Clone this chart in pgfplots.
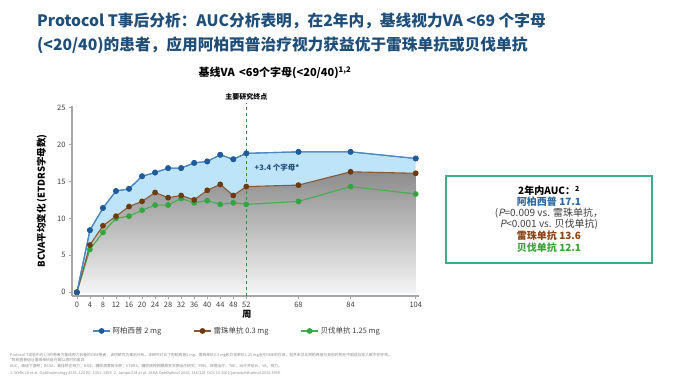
\documentclass[border=0pt]{standalone}
\usepackage{fontspec}
\setmainfont{Noto Sans CJK SC}
\newfontfamily\slantfont{Noto Sans CJK SC}[FakeSlant=0.2]
\usepackage{pgfplots}
\pgfplotsset{compat=1.18}
\definecolor{titleblue}{HTML}{1F4E79}
\definecolor{bline}{HTML}{4A86C0}
\definecolor{bmark}{HTML}{1F5C99}
\definecolor{bfill}{HTML}{BDE4F8}
\definecolor{rline}{HTML}{8A5A35}
\definecolor{rmark}{HTML}{6E3A10}
\definecolor{gline}{HTML}{45AE4E}
\definecolor{gmark}{HTML}{35A540}
\definecolor{graytop}{HTML}{8C8C8C}
\definecolor{graybot}{HTML}{F4F4F4}
\definecolor{axgray}{HTML}{A6A6A6}
\definecolor{tickgray}{HTML}{404040}
\definecolor{boxgreen}{HTML}{3AAE85}
\definecolor{auctxt}{HTML}{404040}
\definecolor{aucblue}{HTML}{2E6AA0}
\definecolor{aucbrown}{HTML}{8B4513}
\definecolor{aucgreen}{HTML}{3AA335}
\definecolor{footgray}{HTML}{8C8C8C}

\pgfplotstableread{
x y
0 0
4 8.4
8 11.4
12 13.7
16 14.0
20 15.7
24 16.2
28 16.8
32 16.8
36 17.5
40 17.7
44 18.6
48 18.0
52 18.8
68 19.0
84 19.0
104 18.1
}\aflib
\pgfplotstableread{
x y
0 0
4 6.4
8 9.0
12 10.3
16 11.6
20 12.3
24 13.5
28 12.8
32 13.1
36 12.5
40 13.8
44 14.6
48 13.1
52 14.3
68 14.5
84 16.3
104 16.1
}\ranib
\pgfplotstableread{
x y
0 0
4 5.8
8 8.1
12 10.0
16 10.3
20 11.1
24 11.8
28 11.8
32 12.7
36 12.1
40 12.4
44 11.9
48 12.1
52 11.9
68 12.3
84 14.3
104 13.3
}\bevac

\begin{document}
\begin{tikzpicture}[x=1pt,y=1pt]
\path[use as bounding box, fill=white] (0,0) rectangle (693,384);
\node[anchor=base west, inner sep=0, font=\bfseries\fontsize{15.7}{18}\selectfont, text=titleblue] at (37,357) {Protocol T事后分析：AUC分析表明，在2年内，基线视力VA <69 个字母};
\node[anchor=base west, inner sep=0, font=\bfseries\fontsize{15.7}{18}\selectfont, text=titleblue] at (37,334) {(<20/40)的患者，应用阿柏西普治疗视力获益优于雷珠单抗或贝伐单抗};
\node[font=\bfseries\fontsize{11}{13}\selectfont] at (275,311) {基线VA \,<69个字母(<20/40)\textsuperscript{1,2}};

% AUC box
\draw[boxgreen, line width=1.3pt] (446,121) rectangle (652,208);
\node[font=\bfseries\fontsize{10}{12}\selectfont, text=black] at (549,193) {2年内AUC：\textsuperscript{2}};
\node[font=\bfseries\fontsize{10}{12}\selectfont, text=aucblue] at (549,182) {阿柏西普 17.1};
\node[font=\fontsize{10}{12}\selectfont, text=auctxt] at (549,170.5) {({\slantfont P}=0.009 vs. 雷珠单抗，};
\node[font=\fontsize{10}{12}\selectfont, text=auctxt] at (549,159.5) {{\slantfont P}<0.001 vs. 贝伐单抗)};
\node[font=\bfseries\fontsize{10}{12}\selectfont, text=aucbrown] at (549,148) {雷珠单抗 13.6};
\node[font=\bfseries\fontsize{10}{12}\selectfont, text=aucgreen] at (549,136.5) {贝伐单抗 12.1};

% footnotes
\begin{scope}[every node/.style={anchor=base west, inner sep=0, font=\fontsize{3.8}{4.5}\selectfont, text=footgray}]
\node at (10,28) {Protocol T试验中约1/3的患者为基线视力较差的DME患者，该项研究为事后分析。本研究对比了阿柏西普2 mg、雷珠单抗0.3 mg和贝伐单抗1.25 mg治疗DME的疗效，但并未对比阿柏西普与其他药物在中国适应症人群中的疗效。};
\node at (10,22.5) {*阿柏西普组与雷珠单抗组在第52周时的差异};
\node at (10,16.5) {AUC，曲线下面积；BCVA，最佳矫正视力；DME，糖尿病黄斑水肿；ETDRS，糖尿病视网膜病变早期治疗研究；PRN，按需治疗；TAE，治疗并延长；VA，视力。};
\node at (10,10) {1. Wells JA \textit{et al.} \textit{Ophthalmology} 2016; 123 (6): 1351–1359. 2. Jampol LM \textit{et al.} \textit{JAMA Ophthalmol} 2016; 134 (12): DOI: 10.1001/jamaophthalmol.2016.3698.};
\end{scope}

\begin{axis}[
  at={(72pt,88pt)}, anchor=south west, scale only axis,
  width=347pt, height=190pt,
  xmin=-1.5, xmax=105, ymin=-0.5, ymax=25.2,
  axis x line*=bottom, axis y line*=left,
  axis line style={axgray, line width=1.3pt, -},
  xtick={0,4,8,12,16,20,24,28,32,36,40,44,48,52,68,84,104},
  ytick={0,5,10,15,20,25},
  tick align=outside, major tick length=3pt,
  tick style={axgray, line width=0.6pt},
  ticklabel style={font=\fontsize{7.5}{9}\selectfont, text=tickgray},
  /pgf/number format/assume math mode=true,
  xlabel={周}, xlabel style={font=\bfseries\fontsize{9}{10}\selectfont, at={(axis description cs:0.504,-0.095)}, anchor=center},
  ylabel={BCVA平均变化 (ETDRS字母数)}, ylabel style={font=\bfseries\fontsize{9.5}{11}\selectfont, at={(axis description cs:-0.087,0.5)}, anchor=center, rotate=0},
  clip=false,
  legend columns=3,
  legend style={draw=none, fill=none, at={(axis description cs:0.476,-0.184)}, anchor=center, font=\fontsize{7.5}{9}\selectfont, text=tickgray, /tikz/every even column/.append style={column sep=30pt}},
  legend cell align=left,
]
\addplot[draw=none, fill=bfill, forget plot] table {\aflib} \closedcycle;
\addplot[draw=none, top color=graytop, bottom color=graybot, forget plot] table {\ranib} \closedcycle;
\draw[gline!80!black, dashed, line width=0.7pt] (axis cs:52,-0.5) -- (axis cs:52,25.6);
\node[font=\bfseries\fontsize{7}{8}\selectfont] at (axis cs:52,26.5) {主要研究终点};
\node[anchor=west, font=\bfseries\fontsize{7.5}{9}\selectfont, text=titleblue] at (axis cs:53.5,16.8) {+3.4 个字母*};
\addplot[bline, line width=1.1pt, mark=*, mark size=2.3pt, mark options={fill=bmark, draw=bmark}, forget plot] table {\aflib};
\addplot[gline, line width=1.1pt, mark=*, mark size=2.3pt, mark options={fill=gmark, draw=gmark}, forget plot] table {\bevac};
\addplot[rline, line width=1.1pt, mark=*, mark size=2.3pt, mark options={fill=rmark, draw=rmark}, forget plot] table {\ranib};
\addplot[bline, line width=1.1pt, mark=*, mark size=2.3pt, mark options={fill=bmark, draw=bmark}] table {\aflib};
\addlegendentry{阿柏西普 2 mg}
\addlegendimage{rline, line width=1.1pt, mark=*, mark size=2.3pt, mark options={fill=rmark, draw=rmark}}
\addlegendentry{雷珠单抗 0.3 mg}
\addlegendimage{gline, line width=1.1pt, mark=*, mark size=2.3pt, mark options={fill=gmark, draw=gmark}}
\addlegendentry{贝伐单抗 1.25 mg}
\end{axis}
\end{tikzpicture}
\end{document}
